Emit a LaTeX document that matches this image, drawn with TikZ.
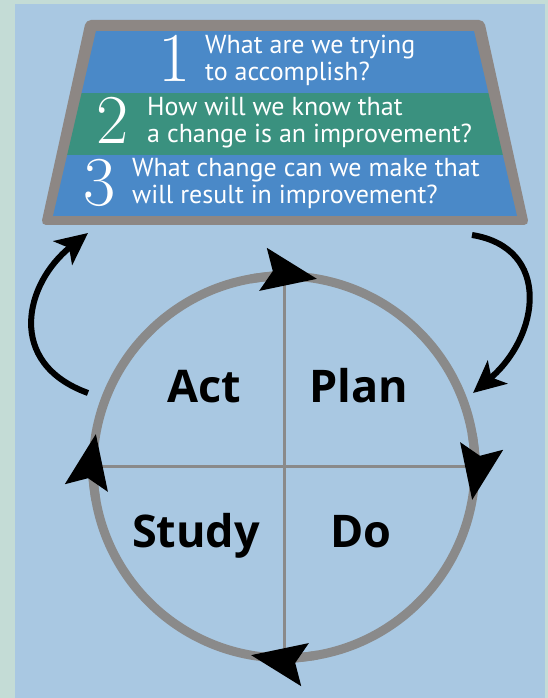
\documentclass[tikz,border=0pt]{standalone}
\usepackage{fontspec}
\newfontfamily\qfont{PT Sans}
\newfontfamily\pdsafont{Open Sans}
\usetikzlibrary{arrows.meta,positioning}

\definecolor{edgegreen}{HTML}{C4DCD6}
\definecolor{panelblue}{HTML}{A9C8E2}
\definecolor{framegrey}{HTML}{8D8784}
\definecolor{bandblue}{HTML}{4A89C8}
\definecolor{bandgreen}{HTML}{3A917F}
\definecolor{cyclegrey}{HTML}{8A8A8A}

\begin{document}
\begin{tikzpicture}[
  x=1pt, y=1pt,
  question/.style={text=white, font=\qfont\fontsize{26}{27}\selectfont, align=left, anchor=west, inner sep=0pt},
  numeral/.style={text=white, font=\fontsize{70}{70}\selectfont, inner sep=0pt},
  phase/.style={font=\pdsafont\bfseries\fontsize{45}{45}\selectfont, anchor=base, inner sep=0pt},
  quarter/.style={draw=cyclegrey, line width=3pt},
  cyclearr/.style={draw=cyclegrey, line width=9pt, -{Stealth[length=54pt, width=42pt, inset=9pt, color=black]}},
  swing/.style={line width=6pt, -{Stealth[length=32pt, width=30pt, inset=8pt]}}
]
% background
\fill[edgegreen] (0,0) rectangle (548,698);
\fill[panelblue] (15,0) rectangle (545,694);
\useasboundingbox (0,0) rectangle (548,698);

% the three questions
\fill[framegrey, rounded corners=5pt] (86,678) -- (484,678) -- (529,473) -- (41,473) -- cycle;
\begin{scope}
  \clip (96,667) -- (474,667) -- (517,482) -- (53,482) -- cycle;
  \fill[bandblue] (0,605) rectangle (548,667);
  \fill[bandgreen] (0,543) rectangle (548,605);
  \fill[bandblue] (0,482) rectangle (548,543);
\end{scope}

\node[numeral] (n1) at (175,640) {1};
\node[numeral] (n2) at (113,578) {2};
\node[numeral] (n3) at (100,515) {3};
\node[question] (q1) at (205,638) {What are we trying\\to accomplish?};
\node[question] (q2) at (147,575) {How will we know that\\a change is an improvement?};
\node[question] (q3) at (132,514) {What change can we make that\\will result in improvement?};

% PDSA cycle
\node[circle, draw=cyclegrey, line width=9pt, minimum size=382pt, inner sep=0pt, outer sep=0pt] (cycle) at (284,231) {};
\draw[quarter] (cycle.north) -- (cycle.south);
\draw[quarter] (cycle.west) -- (cycle.east);
\foreach \a in {100,10,-80,190}
  \draw[cyclearr] (cycle.\a) arc[start angle=\a, end angle=\a-20, radius=191];

\node[phase] (act) at (204,295) {Act};
\node[phase] (plan) at (359,295) {Plan};
\node[phase] (study) at (196,150) {Study};
\node[phase] (do) at (361,150) {Do};

% links between the questions and the cycle
\coordinate (lstart) at (88,305);
\coordinate (ltip) at (88,465);
\coordinate (rstart) at (472,463);
\coordinate (rtip) at (473,305);
\draw[swing] (lstart) .. controls (5,335) and (25,415) .. (ltip);
\draw[swing] (rstart) .. controls (552,450) and (540,362) .. (rtip);
\end{tikzpicture}
\end{document}
